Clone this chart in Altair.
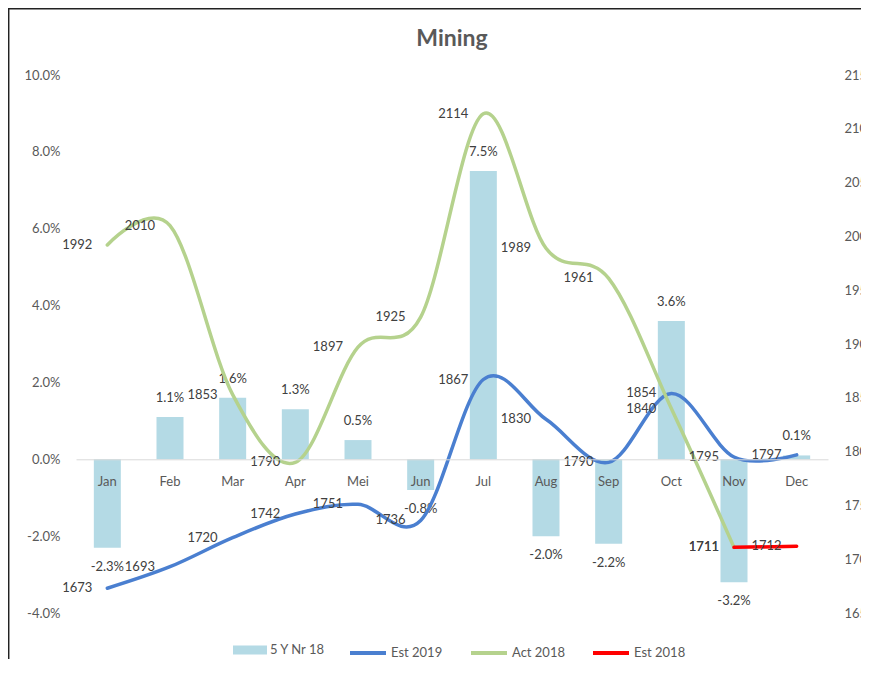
import altair as alt
import pandas as pd

months = ["Jan", "Feb", "Mar", "Apr", "Mei", "Jun", "Jul", "Aug", "Sep", "Oct", "Nov", "Dec"]
nr5y_pct = [-2.3, 1.1, 1.6, 1.3, 0.5, -0.8, 7.5, -2.0, -2.2, 3.6, -3.2, 0.1]
est2019 = [1673, 1693, 1720, 1742, 1751, 1736, 1867, 1830, 1790, 1854, 1795, 1797]
act2018 = [1992, 2010, 1853, 1790, 1897, 1925, 2114, 1989, 1961, 1840, 1711, None]
est2018 = [None, None, None, None, None, None, None, None, None, None, 1711, 1712]

bar_names = ["5 Y Nr 18"]
line_names = ["Est 2019", "Act 2018", "Est 2018"]
bar_colors = ["#B4DAE5"]
line_colors = ["#4A7FD0", "#B5D28D", "#FF0000"]

FONT = "Lato"
TXT = "#404040"
AX = "#595959"

bars = pd.DataFrame({
    "month": months,
    "pct": [v / 100 for v in nr5y_pct],
    "label": [f"{v:.1f}%" for v in nr5y_pct],
    "bar_series": bar_names[0],
})

rows = []
for name, vals in zip(line_names, [est2019, act2018, est2018]):
    for m, v in zip(months, vals):
        if v is not None:
            rows.append({"month": m, "value": v, "series": name, "order": months.index(m)})
lines = pd.DataFrame(rows)

x_enc = alt.X(
    "month:N",
    sort=months,
    scale=alt.Scale(domain=months, paddingInner=0, paddingOuter=0),
    axis=alt.Axis(
        title=None, orient="bottom", offset=-153.7, domainColor="#D9D9D9", domainWidth=1,
        ticks=False, labelPadding=16, labelAngle=0, labelFont=FONT, labelFontSize=13,
        labelColor=AX, zindex=1,
    ),
)

y_pct = alt.Y(
    "pct:Q",
    scale=alt.Scale(domain=[-0.04, 0.10], nice=False, zero=True),
    axis=alt.Axis(
        title=None, orient="left", values=[-0.04, -0.02, 0, 0.02, 0.04, 0.06, 0.08, 0.10],
        format=".1%", labelExpr="replace(datum.label, '\u2212', '-')",
        grid=False, domain=False, ticks=False, tickSize=0, labelPadding=16,
        labelFont=FONT, labelFontSize=13, labelColor=AX,
    ),
)

bar_layer = alt.Chart(bars).mark_bar(size=27).encode(
    x=x_enc,
    y=y_pct,
    fill=alt.Fill(
        "bar_series:N",
        scale=alt.Scale(domain=bar_names, range=bar_colors),
        legend=alt.Legend(
            title=None, orient="none", legendX=157, legendY=558, direction="horizontal",
            symbolType="M-1,-0.265H1V0.265H-1Z", symbolSize=1156, symbolStrokeWidth=0,
            labelFont=FONT, labelFontSize=13, labelColor=AX, labelOffset=3, padding=0,
        ),
    ),
)

pos_labels = alt.Chart(bars).transform_filter("datum.pct >= 0").mark_text(
    dy=-19, font=FONT, fontSize=13, color=TXT, baseline="middle"
).encode(x=alt.X("month:N", sort=months), y=alt.Y("pct:Q"), text="label:N")

neg_labels = alt.Chart(bars).transform_filter("datum.pct < 0").mark_text(
    dy=19, font=FONT, fontSize=13, color=TXT, baseline="middle"
).encode(x=alt.X("month:N", sort=months), y=alt.Y("pct:Q"), text="label:N")

left = alt.layer(bar_layer, pos_labels, neg_labels)

y_abs = alt.Y(
    "value:Q",
    scale=alt.Scale(domain=[1650, 2150], nice=False, zero=False),
    axis=alt.Axis(
        title=None, orient="right", values=list(range(1650, 2151, 50)), format="d",
        grid=False, domain=False, ticks=False, tickSize=0, labelPadding=16,
        labelFont=FONT, labelFontSize=13, labelColor=AX,
    ),
)

line_layer = alt.Chart(lines).mark_line(interpolate="cardinal", strokeWidth=3.5, strokeCap="round").encode(
    x=alt.X("month:N", sort=months),
    y=y_abs,
    order="order:Q",
    stroke=alt.Stroke(
        "series:N",
        scale=alt.Scale(domain=line_names, range=line_colors),
        legend=alt.Legend(
            title=None, orient="none", legendX=272, legendY=558, direction="horizontal",
            symbolType="stroke", symbolSize=1296, symbolStrokeWidth=4,
            labelFont=FONT, labelFontSize=13, labelColor=AX, labelOffset=3,
            columnPadding=20, padding=0,
        ),
    ),
)

line_labels = alt.Chart(lines).mark_text(
    align="right", baseline="middle", dx=-15, font=FONT, fontSize=13, color=TXT
).encode(
    x=alt.X("month:N", sort=months),
    y=alt.Y("value:Q"),
    text=alt.Text("value:Q", format="d"),
)

right = alt.layer(line_layer, line_labels)

frame = alt.Chart(alt.Data(values=[{}])).mark_rect(
    fill=None, stroke="#222222", strokeWidth=1.5
).encode(
    x=alt.value(-67.3), x2=alt.value(900), y=alt.value(-66.2), y2=alt.value(700)
)

chart = alt.layer(left, right, frame).resolve_scale(
    y="independent", fill="independent", stroke="independent"
).properties(
    width=752,
    height=538,
    padding={"left": 68, "top": 67, "right": 33, "bottom": 46},
    autosize=alt.AutoSizeParams(type="none"),
    title=alt.Title("Mining", font=FONT, fontSize=23, fontWeight="bold", color=AX,
                    anchor="middle", offset=0, dy=61, baseline="alphabetic"),
).configure(background="white", view=alt.ViewConfig(stroke=None))

chart.save("out.html", embed_options={"renderer": "svg", "actions": False})
